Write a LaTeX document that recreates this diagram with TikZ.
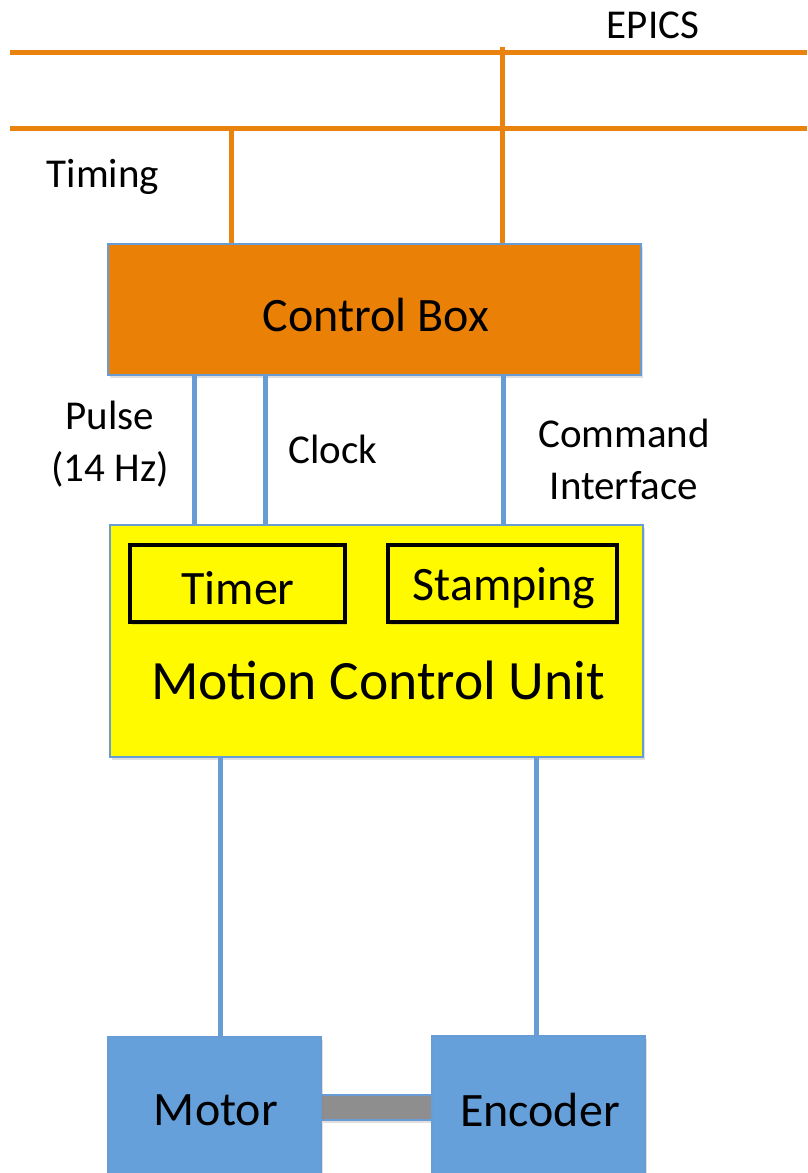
\documentclass[tikz,border=0pt]{standalone}
\usepackage{fontspec}
\setmainfont{Carlito}
\usetikzlibrary{shadows}
\definecolor{busorange}{RGB}{233,131,14}
\definecolor{boxorange}{RGB}{234,128,6}
\definecolor{edgeblue}{RGB}{104,156,212}
\definecolor{wireblue}{RGB}{104,156,212}
\definecolor{mcuyellow}{RGB}{255,250,0}
\definecolor{devblue}{RGB}{101,160,219}
\definecolor{shaftgray}{RGB}{142,142,142}
\tikzset{
  bus/.style={draw=busorange,line width=5pt},
  wire/.style={draw=wireblue,line width=5pt},
  blockbox/.style={draw=edgeblue,line width=1.8pt,inner sep=0pt,
    drop shadow={shadow xshift=2pt,shadow yshift=-3pt,opacity=0.25}},
  subbox/.style={draw=black,fill=mcuyellow,line width=3.5pt,inner sep=0pt,
    drop shadow={shadow xshift=2pt,shadow yshift=-3pt,opacity=0.25}},
  lbl/.style={font=\fontsize{41}{52}\selectfont,align=center,inner sep=0pt},
  big/.style={font=\fontsize{48}{56}\selectfont},
}
\begin{document}
\begin{tikzpicture}[x=1pt,y=-1pt]
\useasboundingbox (0,0) rectangle (807,1173);
% buses
\coordinate (epicsL) at (10,52);
\coordinate (epicsR) at (807,52);
\coordinate (timL) at (10,128);
\coordinate (timR) at (807,128);
\coordinate (epicsDrop) at (502,47);
\coordinate (timDrop) at (231,128);
% boxes
\node[blockbox,fill=boxorange,minimum width=533pt,minimum height=131pt] (cb) at (374.5,309.5) {};
\node[big] (cbt) at (376,315) {Control Box};
\node[blockbox,fill=mcuyellow,minimum width=533pt,minimum height=232pt] (mcu) at (376.5,641) {};
\node[subbox,minimum width=215pt,minimum height=77pt] (timer) at (237.5,583.5) {};
\node[big] (timert) at (238,588) {Timer};
\node[subbox,minimum width=229pt,minimum height=77pt] (stamp) at (502.5,583.5) {};
\node[big] (stampt) at (504,588) {Stamping};
\node[font=\fontsize{55.5}{60}\selectfont] (mcut) at (378,680) {Motion Control Unit};
\node[blockbox,fill=shaftgray,minimum width=113pt,minimum height=25pt] (shaft) at (377.5,1107.5) {};
\node[blockbox,fill=devblue,minimum width=213pt,minimum height=150pt] (motor) at (214.5,1112) {};
\node[big] (motort) at (216,1110) {Motor};
\node[blockbox,fill=devblue,minimum width=213pt,minimum height=150pt] (enc) at (538.5,1111) {};
\node[big] (enct) at (540,1110) {Encoder};
% bus lines
\draw[bus] (epicsL) -- (epicsR);
\draw[bus] (timL) -- (timR);
\draw[bus] (epicsDrop) -- (epicsDrop |- cb.north);
\draw[bus] (timDrop) -- (timDrop |- cb.north);
% wires
\coordinate (pulseX) at (194,0);
\coordinate (clockX) at (265,0);
\coordinate (cmdX) at (503,0);
\coordinate (motX) at (220,0);
\coordinate (encX) at (536,0);
\draw[wire] (pulseX |- cb.south) -- (pulseX |- mcu.north);
\draw[wire] (clockX |- cb.south) -- (clockX |- mcu.north);
\draw[wire] (cmdX |- cb.south) -- (cmdX |- mcu.north);
\draw[wire] (motX |- mcu.south) -- (motX |- motor.north);
\draw[wire] (encX |- mcu.south) -- (encX |- enc.north);
% labels
\node[lbl] (epics) at (653,25) {EPICS};
\node[lbl] (timing) at (103,177) {Timing};
\node[lbl] (pulse) at (110,444) {Pulse\\(14 Hz)};
\node[lbl] (clock) at (333,449) {Clock};
\node[lbl] (cmd) at (624,459) {Command\\Interface};
\end{tikzpicture}
\end{document}
